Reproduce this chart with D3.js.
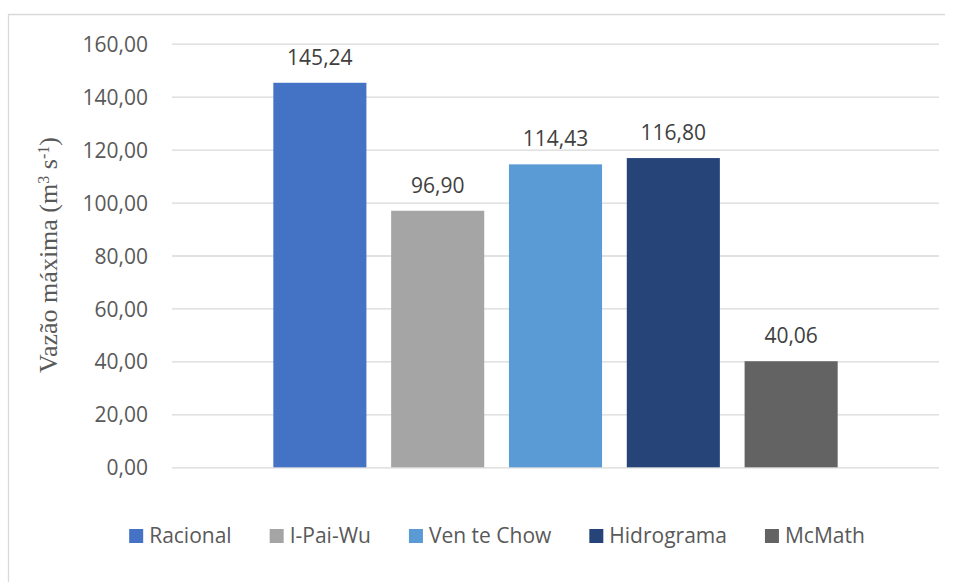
<!DOCTYPE html>
<html>
<head>
<meta charset="utf-8">
<script src="https://cdn.jsdelivr.net/npm/d3@7"></script>
<style>
  body { margin: 0; background: #fff; }
  svg { display: block; }
</style>
</head>
<body>
<div id="chart"></div>
<script>
// data
var methods = ["Racional", "I-Pai-Wu", "Ven te Chow", "Hidrograma", "McMath"];
var values = [145.24, 96.90, 114.43, 116.80, 40.06];
var colors = ["#4472C4", "#A5A5A5", "#5B9BD5", "#264478", "#636363"];
var yTicks = [0, 20, 40, 60, 80, 100, 120, 140, 160];

var W = 954, H = 582;
var plotLeft = 172, plotRight = 939, plotTop = 43.7, plotBottom = 467.3;
var fmt = function(v) { return v.toFixed(2).replace(".", ","); };

var svg = d3.select("#chart")
  .append("svg")
    .attr("width", W)
    .attr("height", H);

// chart frame (only top + left edges visible in the picture)
svg.append("path")
  .attr("d", "M8.5," + H + "V14.5H945")
  .attr("fill", "none")
  .attr("stroke", "#d9d9d9")
  .attr("stroke-width", 1.3);

var x = d3.scaleBand()
  .domain(methods)
  .range([plotLeft, plotRight])
  .paddingInner(0.21)
  .paddingOuter(0.86);

var y = d3.scaleLinear()
  .domain([0, 160])
  .range([plotBottom, plotTop]);

// gridlines + tick labels
var yAxis = svg.append("g")
  .attr("transform", "translate(" + plotLeft + ",0)")
  .call(d3.axisLeft(y).tickValues(yTicks).tickSize(-(plotRight - plotLeft)).tickPadding(24).tickFormat(fmt));
yAxis.select(".domain").remove();
yAxis.selectAll(".tick line")
  .attr("stroke", "#d9d9d9")
  .attr("stroke-width", 1.3);
yAxis.selectAll(".tick text")
  .attr("x", -24)
  .attr("fill", "#595959")
  .attr("font-family", "'Open Sans', sans-serif")
  .attr("font-size", 21)
  .attr("dy", "0.36em");

// bars
svg.selectAll("rect.bar")
  .data(methods)
  .enter()
  .append("rect")
    .attr("class", "bar")
    .attr("x", function(d) { return x(d); })
    .attr("y", function(d, i) { return y(values[i]); })
    .attr("width", x.bandwidth())
    .attr("height", function(d, i) { return plotBottom - y(values[i]); })
    .attr("fill", function(d, i) { return colors[i]; });

// value labels
svg.selectAll("text.lbl")
  .data(methods)
  .enter()
  .append("text")
    .attr("class", "lbl")
    .attr("x", function(d) { return x(d) + x.bandwidth() / 2; })
    .attr("y", function(d, i) { return y(values[i]) - 18; })
    .attr("text-anchor", "middle")
    .attr("fill", "#404040")
    .attr("font-family", "'Open Sans', sans-serif")
    .attr("font-size", 21)
    .text(function(d, i) { return fmt(values[i]); });

// y axis title
var title = svg.append("text")
  .attr("transform", "translate(57,255) rotate(-90)")
  .attr("text-anchor", "middle")
  .attr("fill", "#595959")
  .attr("font-family", "'Liberation Serif', 'Times New Roman', serif")
  .attr("font-size", 26);
title.append("tspan").text("Vazão máxima (m");
title.append("tspan").attr("baseline-shift", "super").attr("font-size", 16).text("3");
title.append("tspan").text(" s");
title.append("tspan").attr("baseline-shift", "super").attr("font-size", 16).text("-1");
title.append("tspan").text(")");

// legend
var legend = svg.append("g");
var items = legend.selectAll("g")
  .data(methods)
  .enter()
  .append("g");
items.append("rect")
  .attr("y", 529)
  .attr("width", 14)
  .attr("height", 14)
  .attr("fill", function(d, i) { return colors[i]; });
items.append("text")
  .attr("x", 20)
  .attr("y", 543)
  .attr("fill", "#595959")
  .attr("font-family", "'Open Sans', sans-serif")
  .attr("font-size", 21)
  .text(function(d) { return d; });

var pos = 0, offs = [];
items.each(function() {
  offs.push(pos);
  pos += 20 + d3.select(this).select("text").node().getComputedTextLength() + 38;
});
var total = pos - 38;
var start = 497 - total / 2;
items.attr("transform", function(d, i) { return "translate(" + (start + offs[i]) + ",0)"; });
</script>
</body>
</html>
